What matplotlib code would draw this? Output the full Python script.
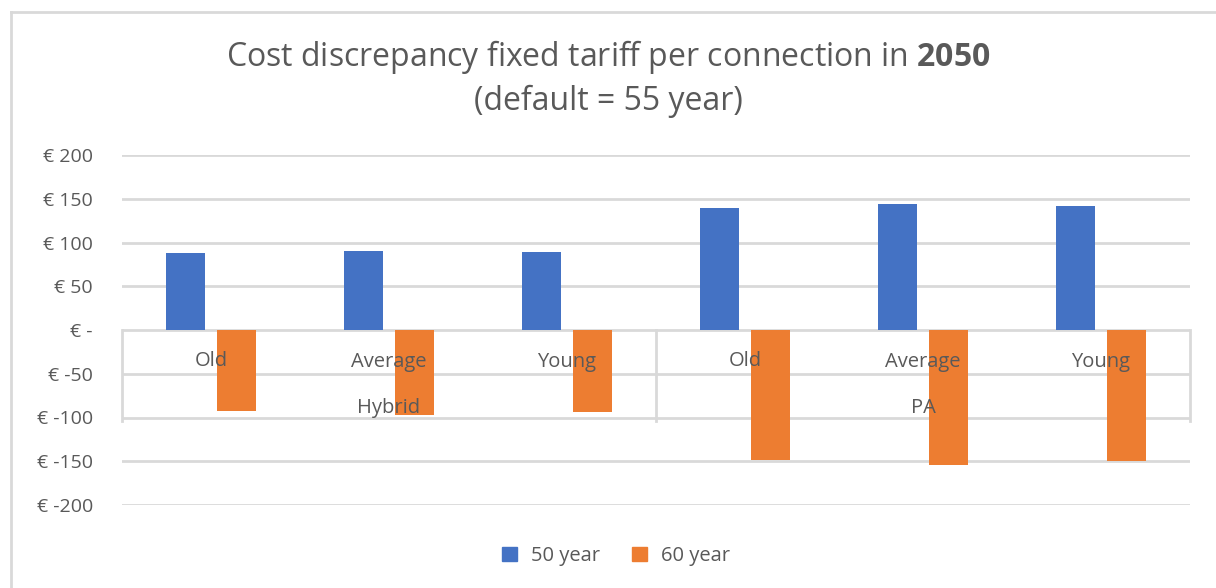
import matplotlib
matplotlib.use("Agg")
import matplotlib.pyplot as plt
from matplotlib.lines import Line2D
from matplotlib.patches import Rectangle
import numpy as np

groups = ["Hybrid", "PA"]
categories = ["Old", "Average", "Young"]
series_names = ["50 year", "60 year"]
values_50 = [88, 90, 89, 140, 144.5, 142]
values_60 = [-92.5, -97, -94, -148.5, -154, -150]
yticks = [200, 150, 100, 50, 0, -50, -100, -150, -200]
ytick_labels = ["€ 200", "€ 150", "€ 100", "€ 50", "€ -", "€ -50", "€ -100", "€ -150", "€ -200"]

blue = "#4472C4"
orange = "#ED7D31"
grid_c = "#D9D9D9"
text_c = "#595959"

plt.rcParams['font.family'] = ['Open Sans', 'DejaVu Sans']
plt.rcParams['mathtext.fontset'] = 'custom'
plt.rcParams['mathtext.rm'] = 'Open Sans'
plt.rcParams['mathtext.bf'] = 'Open Sans:bold'

W, H = 1216, 588
fig = plt.figure(figsize=(W / 100, H / 100), dpi=100)
left, right, top, bottom = 122, 1190, 155, 505
ax = fig.add_axes([left / W, 1 - bottom / H, (right - left) / W, (bottom - top) / H])

n = len(values_50)
x = np.arange(n)
width = 0.22
off = 0.143
ax.bar(x - off, values_50, width, color=blue, zorder=2)
ax.bar(x + off, values_60, width, color=orange, zorder=2)

ax.set_xlim(-0.5, n - 0.5)
ax.set_ylim(-200, 200)
ax.set_yticks(yticks)
ax.set_yticklabels(ytick_labels, color=text_c, fontsize=14)
ax.tick_params(axis='y', length=0, pad=21)
ax.set_xticks([])
for s in ax.spines.values():
    s.set_visible(False)
for yv in yticks:
    ax.axhline(yv, color=grid_c, lw=2, zorder=1)

# multi-level category axis
for xv in [-0.5, 2.5, 5.5]:
    ax.plot([xv, xv], [0, -104], color=grid_c, lw=2, zorder=1, clip_on=False)
for i in range(n):
    ax.text(x[i], -36, categories[i % 3], ha='center', va='center', color=text_c, fontsize=14.5, zorder=3)
for g, name in enumerate(groups):
    ax.text(g * 3 + 1, -89, name, ha='center', va='center', color=text_c, fontsize=14.5, zorder=3)

# title
fig.text(0.5, 1 - 57 / H, "Cost discrepancy fixed tariff per connection in $\\mathbf{2050}$",
         ha='center', va='center', color=text_c, fontsize=23)
fig.text(0.5, 1 - 101 / H, "(default = 55 year)", ha='center', va='center', color=text_c, fontsize=23)

# legend
handles = [Rectangle((0, 0), 1, 1, color=blue), Rectangle((0, 0), 1, 1, color=orange)]
fig.legend(handles, series_names, loc='center', bbox_to_anchor=(616 / W, 1 - 556 / H), ncol=2,
           frameon=False, fontsize=14.5, labelcolor=text_c, handlelength=0.75, handleheight=0.75,
           columnspacing=1.6, handletextpad=0.7)

# chart border
fig.add_artist(Line2D([11 / W, 1], [1 - 12 / H, 1 - 12 / H], color=grid_c, lw=2, transform=fig.transFigure))
fig.add_artist(Line2D([11 / W, 11 / W], [0, 1 - 12 / H], color=grid_c, lw=2, transform=fig.transFigure))

fig.savefig("out.png", dpi=100)
